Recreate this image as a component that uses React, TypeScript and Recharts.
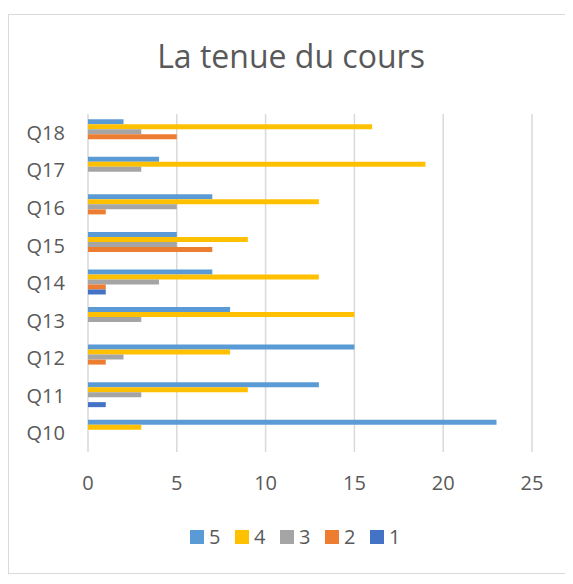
import { BarChart, Bar, XAxis, YAxis, CartesianGrid } from 'recharts';

const questions = ['Q10', 'Q11', 'Q12', 'Q13', 'Q14', 'Q15', 'Q16', 'Q17', 'Q18'];
const score5 = [23, 13, 15, 8, 7, 5, 7, 4, 2];
const score4 = [3, 9, 8, 15, 13, 9, 13, 19, 16];
const score3 = [0, 3, 2, 3, 4, 5, 5, 3, 3];
const score2 = [0, 0, 1, 0, 1, 7, 1, 0, 5];
const score1 = [0, 1, 0, 0, 1, 0, 0, 0, 0];
const xTicks = [0, 5, 10, 15, 20, 25];

const series = [
  { key: 's5', name: '5', color: '#5b9bd5', values: score5 },
  { key: 's4', name: '4', color: '#ffc000', values: score4 },
  { key: 's3', name: '3', color: '#a5a5a5', values: score3 },
  { key: 's2', name: '2', color: '#ed7d31', values: score2 },
  { key: 's1', name: '1', color: '#4472c4', values: score1 },
];

const data = questions.map((q, i) => {
  const row: Record<string, string | number> = { q };
  series.forEach((s) => {
    row[s.key] = s.values[i];
  });
  return row;
});

const font = '"Open Sans", sans-serif';
const ink = '#595959';

function Legend() {
  return (
    <div
      style={{
        position: 'absolute',
        left: 181,
        top: 515,
        display: 'flex',
        fontFamily: font,
        fontSize: 20,
        color: ink,
      }}
    >
      {series.map((s) => (
        <div
          key={s.key}
          style={{ width: 45, display: 'flex', alignItems: 'center', height: 14 }}
        >
          <span style={{ width: 14, height: 14, background: s.color, display: 'inline-block' }} />
          <span style={{ marginLeft: 5, lineHeight: '14px' }}>{s.name}</span>
        </div>
      ))}
    </div>
  );
}

export default function App() {
  return (
    <div
      style={{
        position: 'relative',
        marginTop: 6,
        width: 564,
        height: 558,
        border: '1px solid #d9d9d9',
        borderRight: 'none',
        background: '#fff',
      }}
    >
      <div
        style={{
          position: 'absolute',
          top: 25,
          left: 0,
          width: 564,
          textAlign: 'center',
          fontFamily: font,
          fontSize: 32,
          lineHeight: '32px',
          color: ink,
        }}
      >
        La tenue du cours
      </div>
      <BarChart
        width={564}
        height={558}
        data={data}
        layout="vertical"
        barGap={0}
        barCategoryGap="14%"
        margin={{ top: 99, right: 41, left: 0, bottom: 91 }}
      >
        <CartesianGrid stroke="#d9d9d9" strokeWidth={1.5} horizontal={false} />
        <XAxis
          type="number"
          domain={[0, 25]}
          ticks={xTicks}
          axisLine={false}
          tickLine={false}
          tickMargin={18}
          height={30}
          tick={{ fill: ink, fontSize: 20, fontFamily: font }}
        />
        <YAxis
          type="category"
          dataKey="q"
          reversed
          width={79}
          axisLine={false}
          tickLine={false}
          tickMargin={17}
          tick={{ fill: ink, fontSize: 20, fontFamily: font }}
        />
        {series.map((s) => (
          <Bar key={s.key} dataKey={s.key} name={s.name} fill={s.color} isAnimationActive={false} />
        ))}
      </BarChart>
      <Legend />
    </div>
  );
}
